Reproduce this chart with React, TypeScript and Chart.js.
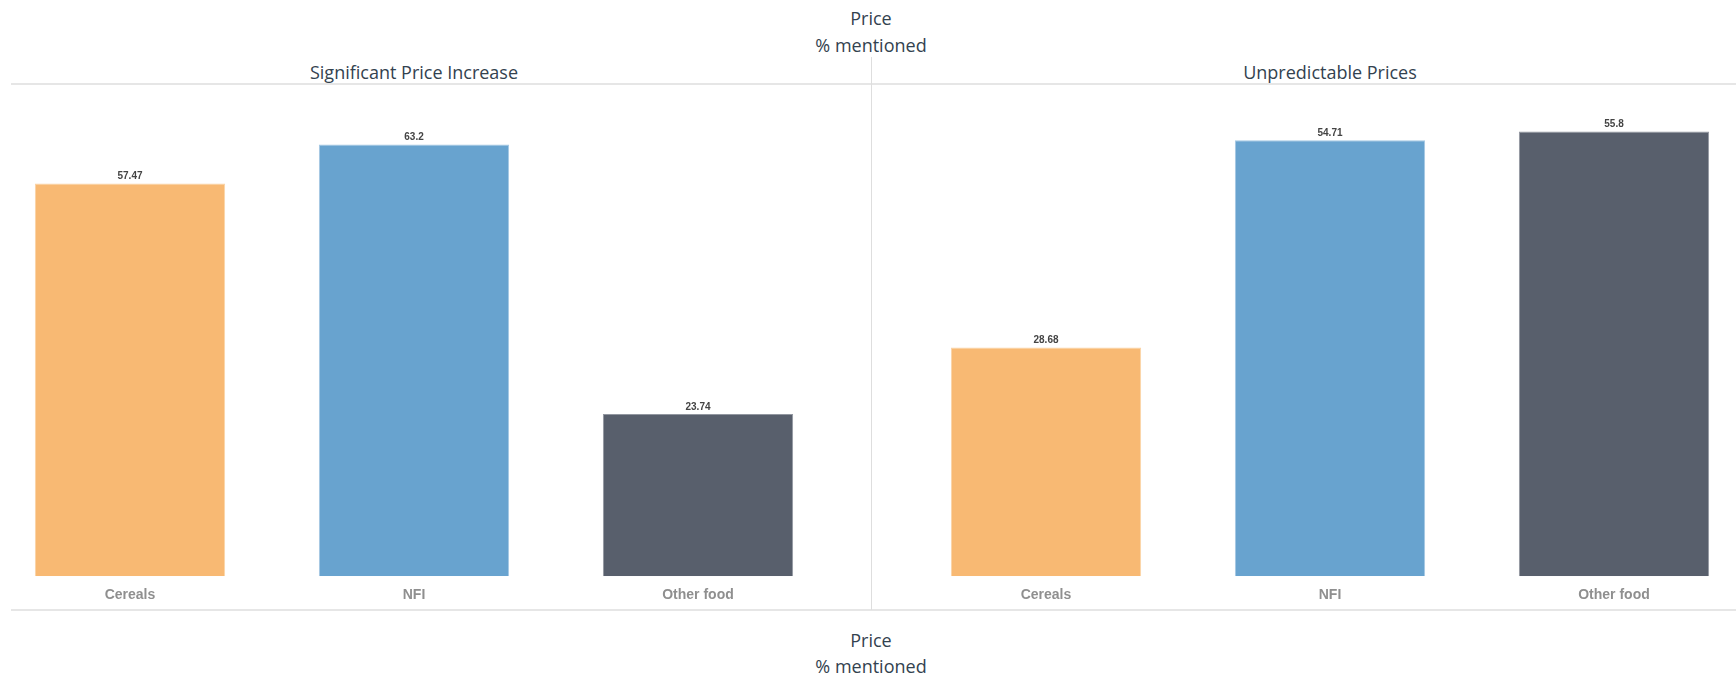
import React, { useEffect, useRef } from "react";
import { Chart, registerables } from "chart.js";

Chart.register(...registerables);

const categories = ["Cereals", "NFI", "Other food"];
const significantIncrease = [57.47, 63.2, 23.74];
const unpredictablePrices = [28.68, 54.71, 55.8];
const barColors = ["#F8B973", "#68A3CF", "#585F6C"];
const barBorders = ["#FBD3A6", "#A4C8E3", "#9297A0"];
const panelTitles = ["Significant Price Increase", "Unpredictable Prices"];
const axisMax = [70, 60];
const mainTitle = "Price";
const subTitle = "% mentioned";

const valueLabelPlugin = {
  id: "valueLabels",
  afterDatasetsDraw(chart: any) {
    const ctx = chart.ctx;
    ctx.save();
    ctx.font = "bold 10px 'Liberation Sans', Arial, sans-serif";
    ctx.fillStyle = "#444";
    ctx.textAlign = "center";
    ctx.textBaseline = "bottom";
    chart.data.datasets.forEach((ds: any, di: number) => {
      const meta = chart.getDatasetMeta(di);
      meta.data.forEach((bar: any, i: number) => {
        ctx.fillText(String(ds.data[i]), bar.x, bar.y - 2);
      });
    });
    ctx.restore();
  },
};

function BarPanel({ values, max, left }: { values: number[]; max: number; left: number }) {
  const ref = useRef<HTMLCanvasElement>(null);
  useEffect(() => {
    if (!ref.current) return;
    const chart = new Chart(ref.current, {
      type: "bar",
      data: {
        labels: categories,
        datasets: [
          {
            data: values,
            backgroundColor: barColors,
            borderColor: barBorders,
            borderWidth: 1,
            categoryPercentage: 1,
            barPercentage: 0.67,
          },
        ],
      },
      options: {
        responsive: false,
        animation: false,
        layout: { padding: 0 },
        plugins: { legend: { display: false }, tooltip: { enabled: false }, title: { display: false } },
        scales: {
          x: {
            grid: { display: false, drawTicks: false },
            border: { display: false },
            ticks: {
              color: "#8f8f8f",
              padding: 11,
              font: { family: "'Liberation Sans', Arial, sans-serif", size: 14, weight: "bold" },
            },
          },
          y: { display: false, min: 0, max },
        },
      },
      plugins: [valueLabelPlugin],
    });
    return () => chart.destroy();
  }, [values, max]);
  return (
    <canvas
      ref={ref}
      width={852}
      height={517}
      style={{ position: "absolute", left, top: 98, width: 852, height: 517 }}
    />
  );
}

const titleStyle: React.CSSProperties = {
  position: "absolute",
  fontFamily: "'Open Sans', sans-serif",
  fontSize: 18,
  color: "#33424f",
  textAlign: "center",
  lineHeight: "20px",
  whiteSpace: "nowrap",
};

export default function App() {
  return (
    <div
      style={{
        position: "absolute",
        left: 0,
        top: 0,
        width: 1736,
        height: 677,
        overflow: "hidden",
        background: "#fff",
      }}
    >
      <div style={{ ...titleStyle, left: 0, width: 1742, top: 8 }}>{mainTitle}</div>
      <div style={{ ...titleStyle, left: 0, width: 1742, top: 35 }}>{subTitle}</div>
      <div style={{ ...titleStyle, left: -12, width: 852, top: 62 }}>{panelTitles[0]}</div>
      <div style={{ ...titleStyle, left: 904, width: 852, top: 62 }}>{panelTitles[1]}</div>
      <div style={{ position: "absolute", left: 11, right: 0, top: 83, height: 2, background: "#e6e6e6" }} />
      <div style={{ position: "absolute", left: 11, right: 0, top: 609, height: 2, background: "#e6e6e6" }} />
      <div style={{ position: "absolute", left: 871, width: 1, top: 57, height: 553, background: "#dedede" }} />
      <BarPanel values={significantIncrease} max={axisMax[0]} left={-12} />
      <BarPanel values={unpredictablePrices} max={axisMax[1]} left={904} />
      <div style={{ ...titleStyle, left: 0, width: 1742, top: 630 }}>{mainTitle}</div>
      <div style={{ ...titleStyle, left: 0, width: 1742, top: 656 }}>{subTitle}</div>
    </div>
  );
}
